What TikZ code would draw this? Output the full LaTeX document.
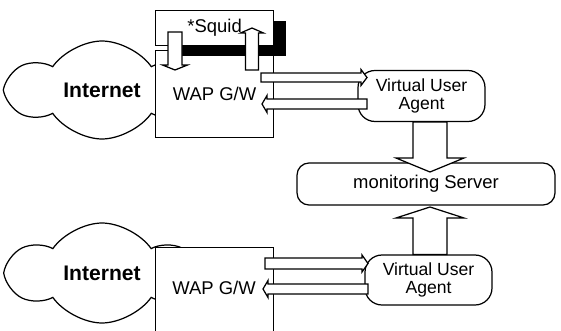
\documentclass[tikz,border=0pt]{standalone}
\usepackage{fontspec}
\setmainfont{Liberation Sans}
\usetikzlibrary{positioning, shapes, shapes.symbols, shadows, calc}

% hollow block arrow: from, to, shaft half width, head half width, head length
\newcommand{\blockarrow}[5]{%
	\coordinate (ba-h) at ($(#2)!#5!(#1)$);
	\draw[BlockArrow] ($(#1)!#3!90:(#2)$) -- ($(ba-h)!#3!90:(#2)$) -- ($(ba-h)!#4!90:(#2)$) -- (#2)
		-- ($(ba-h)!#4!-90:(#2)$) -- ($(ba-h)!#3!-90:(#2)$) -- ($(#1)!#3!-90:(#2)$) -- cycle;
}

\begin{document}
\begin{tikzpicture}[x=0.02cm, y=-0.02cm, line width=0.7pt,
				Cloud/.style={
				cloud, cloud puffs=6, cloud ignores aspect, cloud puff arc=110,
				shape border rotate=30, draw, inner sep=0pt,
				minimum width=3.7cm, minimum height=1.96cm,
				font=\fontsize{12}{14}\selectfont\bfseries},
				Box/.style={draw, fill=white, rectangle, inner sep=0pt, anchor=north west,
				minimum width=2.36cm, font=\fontsize{10.5}{12}\selectfont},
				Agent/.style={draw, fill=white, rounded corners=0.34cm,
				minimum width=2.54cm, minimum height=1.02cm, align=center,
				font=\fontsize{10}{10.5}\selectfont},
				BlockArrow/.style={draw, fill=white, line join=miter}]
				\useasboundingbox (0,0) rectangle (561,331);
				\clip (0,0) rectangle (561,331);
				% upper gateway
				\node[Cloud] (net1) at (102,90) {Internet};
				\node[Box, minimum height=1.74cm] (wap1) at (155,50) {WAP G/W};
				\node[Box, minimum height=0.7cm,
					drop shadow={shadow xshift=0.24cm, shadow yshift=-0.2cm, fill=black, opacity=1}] (squid) at (155,10) {*Squid};
				% lower gateway
				\node[Cloud, minimum height=2cm] (net2) at (102,273) {Internet};
				\node[Box, minimum height=1.96cm] (wap2) at (155,247) {};
				\node[font=\fontsize{10.5}{12}\selectfont] (wap2txt) at (214,288) {WAP G/W};
				% agents and server
				\node[Agent] (vua1) at (421.5,96) {Virtual User\\Agent};
				\node[Agent, minimum height=1cm] (vua2) at (428.5,280) {Virtual User\\Agent};
				\node[Agent, minimum width=5.16cm, minimum height=0.84cm, rounded corners=0.24cm,
					font=\fontsize{10.5}{12}\selectfont] (mon) at (426,184) {monitoring Server};
				% arrow ends
				\coordinate (sq-in) at (175,32);   \coordinate (wap1-in) at (175,70);
				\coordinate (wap1-out) at (252,70); \coordinate (sq-out) at (252,28);
				\coordinate (w1a) at (261,77.5);  \coordinate (v1a) at (367,77.5);
				\coordinate (v1b) at (367,104);   \coordinate (w1b) at (262,104);
				\coordinate (w2a) at (265,263.5); \coordinate (v2a) at (368,263.5);
				\coordinate (v2b) at (368,289);   \coordinate (w2b) at (263,289);
				\coordinate (v1m) at (vua1.south -| 430,0); \coordinate (m1) at (430,172);
				\coordinate (v2m) at (vua2.north -| 430,0); \coordinate (m2) at (430,207);
				\blockarrow{sq-in}{wap1-in}{0.14cm}{0.25cm}{0.1cm}
				\blockarrow{wap1-out}{sq-out}{0.13cm}{0.23cm}{0.1cm}
				\blockarrow{w1a}{v1a}{0.09cm}{0.16cm}{0.12cm}
				\blockarrow{v1b}{w1b}{0.1cm}{0.17cm}{0.1cm}
				\blockarrow{w2a}{v2a}{0.11cm}{0.17cm}{0.12cm}
				\blockarrow{v2b}{w2b}{0.1cm}{0.17cm}{0.1cm}
				\blockarrow{v1m}{m1}{0.34cm}{0.68cm}{0.28cm}
				\blockarrow{v2m}{m2}{0.34cm}{0.68cm}{0.22cm}
			\end{tikzpicture}
\end{document}
